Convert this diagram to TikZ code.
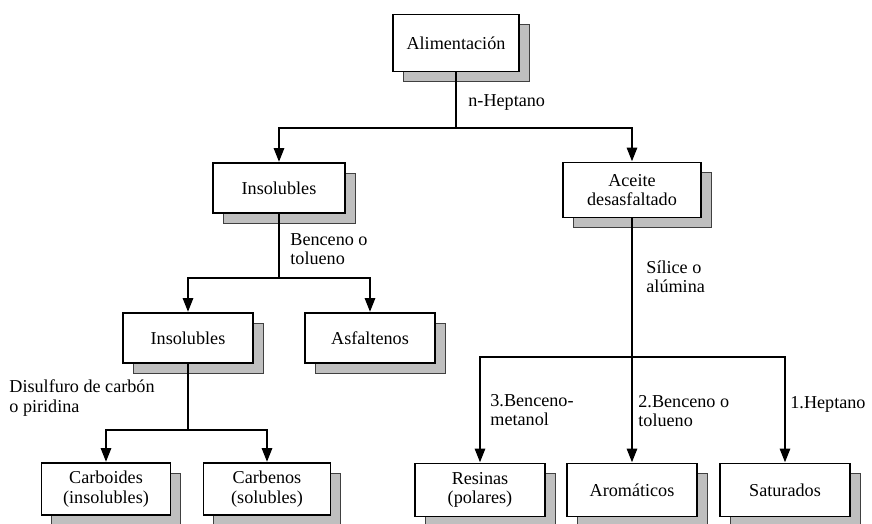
\documentclass[tikz,border=0pt]{standalone}
\usepackage{fontspec}
\setmainfont{Liberation Serif}
\usetikzlibrary{arrows.meta,shadows}
\tikzset{
    box/.style={draw,fill=white,line width=1.6pt,align=center,minimum width=3.9cm,minimum height=1.5cm,
        drop shadow={shadow xshift=0.3cm,shadow yshift=-0.3cm,fill=gray!50,draw=black!75,line width=0.5pt,opacity=1}},
    lbl/.style={anchor=west,inner sep=0pt,align=left},
}

\begin{document}
\begin{tikzpicture}[x=0.03cm,y=-0.03cm,line width=2.4pt,>={Triangle[length=0.42cm,width=0.3cm]},
    font=\fontsize{15.5}{16.5}\selectfont]
\useasboundingbox (0,0) rectangle (872,523);

\node (alim) at (456,43) [box,minimum width=3.78cm,minimum height=1.71cm] {Alimentación};
\node (ins1) at (279,188) [box,minimum width=3.96cm] {Insolubles};
\node (aceite) at (632,190) [box,minimum width=4.14cm,minimum height=1.65cm] {Aceite\\desasfaltado};
\node (ins2) at (188,338) [box] {Insolubles};
\node (asf) at (370,338) [box] {Asfaltenos};
\node (carboides) at (106,489) [box,minimum width=3.87cm,minimum height=1.56cm] {Carboides\\(insolubles)};
\node (carbenos) at (267,489) [box,minimum width=3.81cm,minimum height=1.56cm] {Carbenos\\(solubles)};
\node (resinas) at (480,490) [box,minimum height=1.59cm] {Resinas\\(polares)};
\node (arom) at (632,490) [box,minimum height=1.59cm] {Aromáticos};
\node (satur) at (785,490) [box,minimum height=1.59cm] {Saturados};

% first split
\coordinate (j1) at (456,128);
\draw (alim.south) -- (j1);
\draw[->] (j1) -| (ins1.north);
\draw[->] (j1) -| (aceite.north);
\node (heptano) at (467,102) [lbl] {n-Heptano};

% insolubles
\coordinate (j2) at (279,278);
\draw (ins1.south) -- (j2);
\draw[->] (j2) -| (ins2.north);
\draw[->] (j2) -| (asf.north);
\node (benceno) at (289,249) [lbl] {Benceno o\\tolueno};

\coordinate (j3) at (188,430);
\draw (ins2.south) -- (j3);
\draw[->] (j3) -| (carboides.north);
\draw[->] (j3) -| (carbenos.north);
\node (disulfuro) at (8,398) [lbl] {Disulfuro de carbón\\o piridina};

% aceite desasfaltado
\coordinate (j4) at (632,357);
\draw[->] (aceite.south) -- (arom.north);
\draw[->] (j4) -| (resinas.north);
\draw[->] (j4) -| (satur.north);
\node (silice) at (645,277) [lbl] {Sílice o\\alúmina};
\node (e3) at (489,410) [lbl] {3.Benceno-\\metanol};
\node (e2) at (637,411) [lbl] {2.Benceno o\\tolueno};
\node (e1) at (789,404) [lbl] {1.Heptano};

\end{tikzpicture}
\end{document}
